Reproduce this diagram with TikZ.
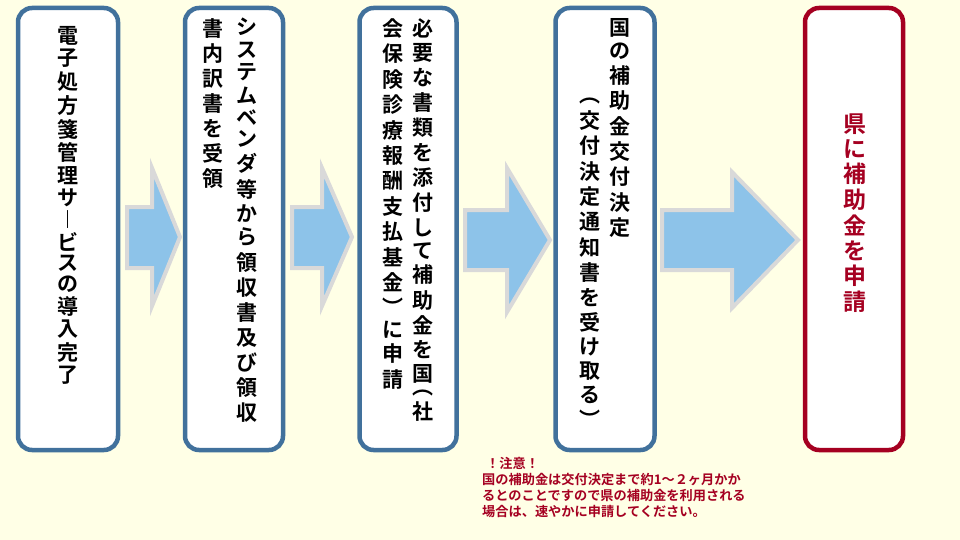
\documentclass[tikz,border=0pt]{standalone}
\usepackage{fontspec}
\setmainfont{Noto Sans CJK JP}[BoldFont={Noto Sans CJK JP Bold}]
\ExplSyntaxOn
\NewDocumentCommand\vcol{mm}{\vbox{\offinterlineskip\tl_map_inline:nn{#2}{\hbox_to_wd:nn{1.1em}{\hss##1\hss}\vskip #1}}}
\ExplSyntaxOff
\definecolor{bg}{HTML}{FFFFE6}
\definecolor{bord}{HTML}{41719C}
\definecolor{dred}{HTML}{A50021}
\definecolor{arrowfill}{HTML}{8DC3E9}
\tikzset{
 stepbox/.style={draw=bord,line width=4.5pt,fill=white,rounded corners=14pt},
 colt/.style={anchor=north,inner sep=0pt,font=\bfseries\fontsize{21}{21}\selectfont},
 bigarrow/.style={fill=arrowfill,draw=black!15,line width=4pt,line join=miter}
}
\begin{document}
\begin{tikzpicture}[x=1pt,y=-1pt]
\fill[bg] (0,0) rectangle (960,540);
\useasboundingbox (0,0) rectangle (960,540);
\node[stepbox,minimum width=100pt,minimum height=442pt] (b1) at (68,229) {};
\node[stepbox,minimum width=98pt,minimum height=442pt] (b2) at (234,229) {};
\node[stepbox,minimum width=97pt,minimum height=442pt] (b3) at (408,229) {};
\node[stepbox,minimum width=99pt,minimum height=442pt] (b4) at (605,229) {};
\node[stepbox,draw=dred,minimum width=98pt,minimum height=442pt] (b5) at (854,229) {};
% texts
\node[colt] (t1) at (68,26) {\vcol{3.9pt}{電子処方箋管理サ︱ビスの導入完了}};
\node[colt] (t2a) at (247,18) {\vcol{5.6pt}{システムベンダ等から領収書及び領収}};
\node[colt] (t2b) at (213,18) {\vcol{5.6pt}{書内訳書を受領}};
\node[colt] (t3a) at (423,18) {\vcol{5.8pt}{必要な書類を添付して補助金を国︵社}};
\node[colt] (t3b) at (393,18) {\vcol{5.8pt}{会保険診療報酬支払基金︶に申請}};
\node[colt] (t4a) at (620,18) {\vcol{5.8pt}{国の補助金交付決定}};
\node[colt] (t4b) at (590,98) {\vcol{5.8pt}{︵交付決定通知書を受け取る︶}};
\node[colt,text=dred,font=\bfseries\fontsize{23}{23}\selectfont] (t5) at (855,114) {\vcol{4.5pt}{県に補助金を申請}};
% arrows
\draw[bigarrow] (127,207) -- (152,207) -- (152,168) -- (180,237) -- (152,306) -- (152,268) -- (127,268) -- cycle;
\draw[bigarrow] (292,207) -- (322,207) -- (322,168) -- (352,237) -- (322,306) -- (322,268) -- (292,268) -- cycle;
\draw[bigarrow] (465,210) -- (507,210) -- (507,168) -- (550,240) -- (507,312) -- (507,270) -- (465,270) -- cycle;
\draw[bigarrow] (662,210) -- (732,210) -- (732,172) -- (798,240) -- (732,308) -- (732,270) -- (662,270) -- cycle;
% note
\node[anchor=north west,inner sep=0pt,text=dred,font=\bfseries\fontsize{13.2}{16}\selectfont,align=left] (note) at (482,457)
 {\hspace*{0.3em}！注意！\\国の補助金は交付決定まで約1～２ヶ月かか\\るとのことですので県の補助金を利用される\\場合は、速やかに申請してください。};
\end{tikzpicture}
\end{document}
